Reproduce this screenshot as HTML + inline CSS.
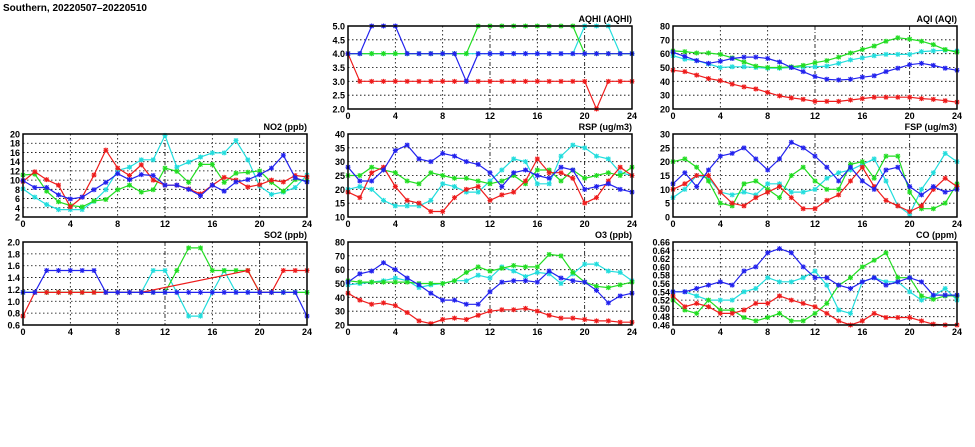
<!DOCTYPE html>
<html><head><meta charset="utf-8"><style>
html,body{margin:0;padding:0;background:#fff;}
svg{display:block;font-family:"Liberation Sans",sans-serif;font-weight:bold;}
</style></head><body>
<svg id="c" width="975" height="447" viewBox="0 0 975 447" xmlns="http://www.w3.org/2000/svg">
<text x="3" y="11" font-size="10">Southern, 20220507–20220510</text>
</svg>
<script>
const hours = [0,1,2,3,4,5,6,7,8,9,10,11,12,13,14,15,16,17,18,19,20,21,22,23,24];
const seriesColors = ["#ee1c1c","#22dd22","#22dddd","#2222ee"];
const seriesNames = ["red","green","cyan","blue"];
const drawOrder = [2,1,0,3];
const xTicks = [0,4,8,12,16,20,24];

const aqhiTicks = ["2.0","2.5","3.0","3.5","4.0","4.5","5.0"];
const aqhiRed = [4,3,3,3,3,3,3,3,3,3,3,3,3,3,3,3,3,3,3,3,3,2,3,3,3];
const aqhiGreen = [4,4,4,4,4,4,4,4,4,4,4,5,5,5,5,5,5,5,5,5,4,4,4,4,4];
const aqhiCyan = [4,4,4,4,4,4,4,4,4,4,4,4,4,4,4,4,4,4,4,4,5,5,5,4,4];
const aqhiBlue = [4,4,5,5,5,4,4,4,4,4,3,4,4,4,4,4,4,4,4,4,4,4,4,4,4];

const aqiTicks = ["20","30","40","50","60","70","80"];
const aqiRed = [48,47,44.5,42,40.5,38,36,34.5,32,29.5,28,27,25.5,25.5,25.5,26.5,27.5,28.5,28.5,28.5,28.5,27.5,27,26,25];
const aqiGreen = [62,61.5,60.5,60.5,59.5,57,54,51,50,50,50.5,51.5,53.5,55,57.5,60.5,63,65.5,69,71.5,70.5,69,66.5,63,61];
const aqiCyan = [58.5,56,55,52.5,50,50.5,50.5,50,49.5,49.5,50,50.5,50.5,51,53,55.5,57,58.5,59.5,59.5,59.5,61.5,62,62.5,62];
const aqiBlue = [61,58,55,53,54.5,56.5,57.5,57.5,56.5,54,50,47,43.5,41.5,41,41.5,43,44,47,49.5,52,53,51.5,49.5,48];

const no2Ticks = ["2","4","6","8","10","12","14","16","18","20"];
const no2Red = [9.7,11.8,10.1,8.9,4.2,6.3,11.1,16.5,12.6,11,13.3,10,8.9,8.9,8.1,7,8.9,10.6,10,8.5,9,10,9.6,11,10.7];
const no2Green = [11.1,11.3,7.6,5.3,4.5,4.2,5.5,5.8,7.9,8.9,7.4,7.9,12.6,11.9,9.5,13.4,13.4,9.5,11.5,11.7,12,9.5,7.6,10.1,9.9];
const no2Cyan = [8.1,6.3,4.7,3.6,3.6,3.6,5.4,7.9,12.1,12.8,14.4,14.4,19.7,12.8,13.9,15,15.9,15.9,18.6,14.4,8.7,6.9,7.4,8.4,11.1];
const no2Blue = [9.9,8.4,8.4,6.8,5.9,6.3,7.9,9.5,11.4,10.1,11.2,11,8.9,8.9,8,6.6,8.9,7.6,9.6,10.1,11.2,12.6,15.4,10.5,9.6];

const rspTicks = ["10","15","20","25","30","35","40"];
const rspRed = [19,17,26,28,21,16,15,12,12,17,20,21,16,18,19,23,31,26,26,24,15,17,23,28,25];
const rspGreen = [25,25,28,27,26,23,22,26,25,24,24,23,22,23,25,22,27,27,23,27,24,25,26,25,28];
const rspCyan = [20,21,20,16,14,14,14,16,22,21,19,19,23,27,31,30,22,22,32,36,35,32,31,26,25];
const rspBlue = [28,23,23,27,34,36,31,30,33,32,30,29,26,21,26,27,25,24,28,27,20,21,22,20,19];

const fspTicks = ["0","5","10","15","20","25","30"];
const fspRed = [10,12,15,15,9,5,4,7,9,11,7,3,3,6,8,13,18,11,6,4,2,4,10,14,11];
const fspGreen = [20,21,18,13,5,4,12,13,10,7,15,18,13,10,10,19,20,14,22,22,9,3,3,5,12];
const fspCyan = [7,10,15,14,9,8,9,8,12,12,9,9,10,14,16,17,19,21,13,4,1,10,16,23,20];
const fspBlue = [12,16,11,17,22,23,25,21,17,21,27,25,22,18,13,18,13,10,17,18,11,8,11,9,10];

const so2Ticks = ["0.6","0.8","1.0","1.2","1.4","1.6","1.8","2.0"];
const so2Red = [0.75,1.15,1.15,1.15,1.15,1.15,1.15,1.15,1.15,1.15,1.15,null,null,null,null,null,null,null,null,1.52,1.15,1.15,1.52,1.52,1.52];
const so2Green = [1.15,1.15,1.15,1.15,1.15,1.15,1.15,1.15,1.15,1.15,1.15,1.15,1.15,1.52,1.9,1.9,1.52,1.52,1.52,1.52,1.15,1.15,1.15,1.15,1.15];
const so2Cyan = [1.15,1.15,1.15,1.15,1.15,1.15,1.15,1.15,1.15,1.15,1.15,1.52,1.52,1.15,0.75,0.75,1.15,1.52,1.15,1.15,1.15,1.15,1.15,1.15,1.15];
const so2Blue = [1.15,1.15,1.52,1.52,1.52,1.52,1.52,1.15,1.15,1.15,1.15,1.15,1.15,1.15,1.15,1.15,1.15,1.15,1.15,1.15,1.15,1.15,1.15,1.15,0.75];

const o3Ticks = ["20","30","40","50","60","70","80"];
const o3Red = [43,38,35,36,34,29,23,21,24,25,24,27,30,31,31,32,30,27,25,25,24,23,23,22,22];
const o3Green = [52,51,51,51,51,51,50,50,50,52,58,62,59,61,63,62,62,71,70,58,51,48,47,49,51];
const o3Cyan = [49,50,51,52,54,52,47,49,50,52,52,56,54,62,59,55,58,57,50,57,64,64,59,58,52];
const o3Blue = [51,57,59,65,60,54,49,43,38,38,35,35,44,51,52,52,51,59,54,52,51,45,36,41,43];

const coTicks = ["0.46","0.48","0.50","0.52","0.54","0.56","0.58","0.60","0.62","0.64","0.66"];
const coRed = [.53,.504,.512,.504,.488,.488,.496,.512,.512,.53,.52,.512,.504,.488,.47,.46,.47,.488,.478,.478,.478,.47,.462,.46,.46];
const coGreen = [.52,.496,.488,.52,.496,.496,.478,.47,.478,.488,.47,.47,.488,.512,.556,.574,.60,.616,.634,.574,.574,.53,.522,.53,.53];
const coCyan = [.54,.54,.53,.52,.52,.52,.54,.548,.574,.564,.564,.574,.59,.556,.496,.488,.564,.574,.564,.564,.54,.52,.53,.548,.52];
const coBlue = [.54,.54,.548,.556,.564,.556,.59,.60,.634,.644,.634,.60,.574,.574,.556,.548,.564,.574,.556,.564,.574,.564,.532,.532,.532];

const panels = [
 {id:"aqhi",title:"AQHI (AQHI)",x:348,y:26,ticks:aqhiTicks,series:[aqhiRed,aqhiGreen,aqhiCyan,aqhiBlue]},
 {id:"aqi",title:"AQI (AQI)",x:673,y:26,ticks:aqiTicks,series:[aqiRed,aqiGreen,aqiCyan,aqiBlue]},
 {id:"no2",title:"NO2 (ppb)",x:23,y:134,ticks:no2Ticks,series:[no2Red,no2Green,no2Cyan,no2Blue]},
 {id:"rsp",title:"RSP (ug/m3)",x:348,y:134,ticks:rspTicks,series:[rspRed,rspGreen,rspCyan,rspBlue]},
 {id:"fsp",title:"FSP (ug/m3)",x:673,y:134,ticks:fspTicks,series:[fspRed,fspGreen,fspCyan,fspBlue]},
 {id:"so2",title:"SO2 (ppb)",x:23,y:242,ticks:so2Ticks,series:[so2Red,so2Green,so2Cyan,so2Blue]},
 {id:"o3",title:"O3 (ppb)",x:348,y:242,ticks:o3Ticks,series:[o3Red,o3Green,o3Cyan,o3Blue]},
 {id:"co",title:"CO (ppm)",x:673,y:242,ticks:coTicks,series:[coRed,coGreen,coCyan,coBlue]}
];
const W = 284, H = 83;
const NS = "http://www.w3.org/2000/svg";
const svg = document.getElementById("c");
function mk(tag, attrs, parent){
  const e = document.createElementNS(NS, tag);
  for (const k in attrs) e.setAttribute(k, attrs[k]);
  (parent||svg).appendChild(e);
  return e;
}
panels.forEach(p => {
  const g = mk("g", {});
  
  
  const lo = parseFloat(p.ticks[0]), hi = parseFloat(p.ticks[p.ticks.length-1]);
  const sx = v => p.x + v/24*W;
  const sy = v => p.y + H - (v-lo)/(hi-lo)*H;
  p.ticks.forEach((t,i) => {
    const yy = sy(parseFloat(t));
    if (i>0 && i<p.ticks.length-1) {
      const l = mk("line",{x1:p.x,x2:p.x+W,y1:yy,y2:yy,stroke:"#000","stroke-width":0.8,"stroke-dasharray":"1.5,2.5"},g);
      
      
    }
    const tx = mk("text",{x:p.x-3,y:yy+3.5,"font-size":9,"text-anchor":"end"},g);
    
    
    tx.textContent = t;
  });
  xTicks.forEach((t,i) => {
    const xx = sx(t);
    if (i>0 && i<xTicks.length-1) {
      const dash = (t===12||t===20) ? "4,2,1,2" : "1.5,2.5";
      const l = mk("line",{x1:xx,x2:xx,y1:p.y,y2:p.y+H,stroke:"#000","stroke-width":0.8,"stroke-dasharray":dash},g);
      
      
    }
    const tx = mk("text",{x:xx,y:p.y+H+10,"font-size":9,"text-anchor":"middle"},g);
    
    
    tx.textContent = t;
  });
  const ttl = mk("text",{x:p.x+W,y:p.y-4,"font-size":9,"text-anchor":"end"},g);
  
  
  ttl.textContent = p.title;
  const cp = mk("clipPath",{id:"cp-"+p.id},g);
  mk("rect",{x:p.x-4,y:p.y-4,width:W+8,height:H+8},cp);
  const sg = mk("g",{"clip-path":"url(#cp-"+p.id+")"},g);
  drawOrder.forEach(si => {
    const vals = p.series[si];
    const col = seriesColors[si];
    const pts = [];
    vals.forEach((v,i)=>{ if (v!==null) pts.push([sx(hours[i]), sy(v)]); });
    const line = mk("polyline",{points:pts.map(q=>q[0].toFixed(1)+","+q[1].toFixed(1)).join(" "),fill:"none",stroke:col,"stroke-width":1.2},sg);
    
    
    pts.forEach(q => {
      const m = mk("path",{d:`M${q[0]-2.5},${q[1]}h5M${q[0]},${q[1]-2.5}v5M${q[0]-2},${q[1]-2}l4,4M${q[0]-2},${q[1]+2}l4,-4`,stroke:col,"stroke-width":1.1,fill:"none"},sg);
      
      
    });
  });
  const fr = mk("rect",{x:p.x,y:p.y,width:W,height:H,fill:"none",stroke:"#000","stroke-width":1.5},g);
  
  
});
</script>
</body></html>
